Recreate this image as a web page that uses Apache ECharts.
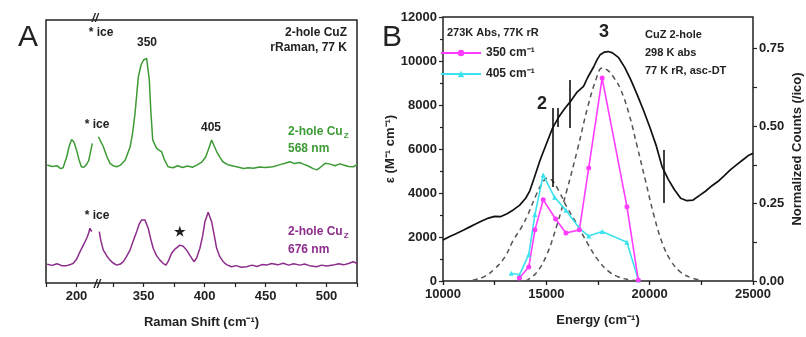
<!DOCTYPE html>
<html>
<head>
<meta charset="UTF-8">
<title>2-hole CuZ rRaman / absorption</title>
<script src="https://cdn.jsdelivr.net/npm/echarts@6/dist/echarts.min.js"></script>
<style>html,body{margin:0;background:#fff}</style>
</head>
<body>
<div id="chart" style="width:806px;height:337px"></div>
<script>
// ---------- panel A: rRaman (broken x axis 215 -> 310) ----------
const BREAK_LO = 215;
const BREAK_SHIFT = 95;
const ramanLabels = [200, 350, 400, 450, 500];
const ramanTicks = [175, 200, 325, 350, 375, 400, 425, 450, 475, 500, 525];

const greenShift = [176,180,184,187,189,192,194,196,198,200,202,204,206,208,210,213,null,
  313,317,320,322.5,325,328,331,335,339,341,343,345.7,348,350,352.5,354.7,356,357.5,360.7,364.8,367,370,374,378,382,386,390,394,398,401,403,405.8,408,410,413,415,419,423.5,428,432,436,440,445,450,456,462,466,470,474,478,481,485,489,492,495,499,503,507,511,514,518,522,525];
const greenCounts = [44.9,44.3,44.6,43.5,43.8,48,52,54.6,53.5,50.6,47,44.2,44.0,44.9,46.5,53.1,null,
  55.6,51.8,48,45.5,44.6,44.2,44.8,46.8,51.8,57,64.5,78.4,83,84.8,85.4,77.2,65,54.4,51.2,49.9,47,44.2,43.8,44.6,43.9,44.5,44,44.9,46.1,48,50.6,54.4,52,49.9,47.5,46.1,45,44.5,44,43.5,43.8,43.6,44.1,43.9,44.2,45,45.5,46.1,45.4,45.8,45.2,44.5,43.5,43,44,45.5,45.2,44.6,45.3,44.9,44.3,44.2,45];

const purpleShift = [176,180,184,188,192,195,197.4,200,202.9,205,208.4,210,211,212.5,null,
  313.7,315,317,320,322.5,325,328,331,333.4,336,338.9,341.5,344.3,346.5,348.4,351.1,353.8,356,357.9,360.5,363.4,366,368.4,370.5,373,376,379.8,382.5,385.3,388,391.3,393.5,396.2,398.5,400.3,403,405.8,408,409.9,412.5,415.3,418,422.2,426,430,434.5,439,443,447,450.9,455,460,464.5,469,473,478.2,482,486,491.9,496,500,505.5,510,514,518,521.9,525];
const purpleCounts = [7.1,6.7,7.3,6.6,6.6,7.0,7.5,9,11.9,13.8,17,19,20.8,19.5,null,
  19.5,16,12.5,10.2,8.7,7.6,6.8,7.2,8.1,10,12.5,16,19.5,22.5,24,24,20.8,16.5,13.2,10.5,8.7,7.5,6.8,8.5,11.3,13,14.4,14,12.5,10.5,8.1,9.5,13.2,18,23.3,26.9,23.3,18,13.2,10,8.1,7,6.2,6.6,6.0,6.2,6.8,6.3,7,6.8,7.4,6.9,7.5,6.8,7.3,6.8,7.2,6.6,6.2,6.8,6.5,6.8,7.3,6.9,7.4,8.1,7.4];

// ---------- panel B: absorption + excitation profiles ----------
const absEnergy = [10000,10300,10600,11000,11300,11600,11900,12200,12500,12800,13100,13400,13700,14000,14200,14400,14700,15000,15300,15600,15900,16200,16500,16800,17000,17150,17300,17450,17600,17800,18000,18200,18500,18800,19100,19400,19700,20000,20300,20600,20900,21200,21500,21800,22100,22400,22700,23000,23300,23600,23900,24200,24500,24800,25000];
const absEps = [1860,2010,2140,2320,2460,2600,2740,2860,2940,2930,3060,3230,3440,3760,4100,4650,5500,6230,6950,7450,7850,8200,8600,8850,9250,9500,9750,10050,10280,10400,10430,10370,10150,9700,9120,8460,7760,7010,6200,5200,4620,4150,3760,3650,3680,3880,4080,4320,4520,4780,5050,5280,5500,5720,5800];

const band2Energy = [11000,11500,12000,12500,13000,13400,13800,14100,14500,14800,15050,15300,15600,16000,16500,17000,17500,18000,18500,19000,19500];
const band2Eps = [0,50,200,550,1100,1850,2450,3000,3900,4450,4680,4550,4100,3350,2550,1700,950,450,180,60,0];
const band3Energy = [14000,14500,15000,15500,16000,16500,17000,17400,17700,18000,18300,18600,19000,19400,19800,20200,20600,21000,21500,22000,22500];
const band3Eps = [0,350,1150,2500,4150,5950,7900,9150,9680,9550,9200,8700,7600,6100,4550,3000,1750,950,400,150,30];

const ep350Energy = [13700,14150,14450,14850,15450,15950,16600,17050,17700,18900,19450];
const ep350Counts = [0.01,0.045,0.165,0.262,0.2,0.155,0.165,0.365,0.655,0.24,0.003];
const ep405Energy = [13300,13700,14150,14450,14850,15400,15950,16600,17050,17700,18900,19450];
const ep405Counts = [0.025,0.02,0.085,0.215,0.342,0.27,0.228,0.17,0.145,0.16,0.125,0.003];

// vertical laser markers on the absorption trace: [energy, low, high]
const laserLines = [[15320,4270,7860],[15530,7000,7860],[16150,6950,9140],[20660,3550,5950]];

const FONT = '"Liberation Sans", Arial, sans-serif';
const GREEN = '#3d9b35';
const PURPLE = '#8c2d8c';
const MAGENTA = '#ff3cff';
const CYAN = '#3ce2ee';
const INK = '#222';

const toAxis = x => (x <= BREAK_LO ? x : x - BREAK_SHIFT);
const fromAxis = u => (u <= BREAK_LO ? u : u + BREAK_SHIFT);
const pairs = (xs, ys, f) => xs.map((x, i) => (x === null ? [BREAK_LO, '-'] : [f ? f(x) : x, ys[i]]));

const labelStyle = { color: INK, fontFamily: FONT, fontWeight: 'bold', fontSize: 13 };
const nameStyle = { color: INK, fontFamily: FONT, fontWeight: 'bold', fontSize: 13 };

function txt(x, y, text, opt) {
  opt = opt || {};
  return {
    type: 'text', x: x, y: y, z: 100,
    style: {
      text: text,
      fill: opt.fill || INK,
      font: (opt.style || '') + ' ' + (opt.weight || 'bold') + ' ' + (opt.size || 12) + 'px ' + FONT,
      textAlign: opt.align || 'left', align: opt.align || 'left',
      textVerticalAlign: 'middle', verticalAlign: 'middle',
      rich: opt.rich
    }
  };
}
const subRich = color => ({
  a: { fill: color, fontSize: 12, fontWeight: 'bold', fontFamily: FONT },
  b: { fill: color, fontSize: 8, fontWeight: 'bold', fontFamily: FONT, padding: [7, 0, 0, 1] }
});

let chart = echarts.init(document.getElementById('chart'));
let option = {
  animation: false,
  grid: [
    { left: 46, top: 20, width: 311, height: 263, show: true, borderColor: INK, borderWidth: 1.5 },
    { left: 443, top: 17, width: 310, height: 264, show: true, borderColor: INK, borderWidth: 1.5 }
  ],
  xAxis: [
    {
      gridIndex: 0, type: 'value', min: 175, max: 430,
      axisLine: { show: false },
      splitLine: { show: false },
      axisTick: { customValues: ramanTicks.map(toAxis), length: 4, lineStyle: { color: INK, width: 1.2 } },
      axisLabel: Object.assign({ customValues: ramanLabels.map(toAxis), margin: 7,
        formatter: u => String(Math.round(fromAxis(u))) }, labelStyle),
      name: 'Raman Shift (cm⁻¹)', nameLocation: 'middle', nameGap: 33, nameTextStyle: nameStyle
    },
    {
      gridIndex: 1, type: 'value', min: 10000, max: 25000, interval: 5000,
      axisLine: { show: false },
      splitLine: { show: false },
      axisTick: { length: 4, lineStyle: { color: INK, width: 1.2 } },
      minorTick: { show: true, splitNumber: 2, length: 3, lineStyle: { color: INK, width: 1.2 } },
      axisLabel: Object.assign({ margin: 7, formatter: v => String(v) }, labelStyle),
      name: 'Energy (cm⁻¹)', nameLocation: 'middle', nameGap: 33, nameTextStyle: nameStyle
    },
    {
      gridIndex: 1, type: 'value', position: 'top', min: 10000, max: 25000, interval: 2500,
      axisLine: { show: false }, splitLine: { show: false }, axisLabel: { show: false },
      axisTick: { inside: true, length: 4, lineStyle: { color: INK, width: 1.2 } }
    }
  ],
  yAxis: [
    {
      gridIndex: 0, type: 'value', min: 0, max: 100,
      axisLine: { show: false }, axisTick: { show: false }, axisLabel: { show: false }, splitLine: { show: false }
    },
    {
      gridIndex: 1, type: 'value', min: 0, max: 12000, interval: 2000,
      axisLine: { show: false }, splitLine: { show: false },
      axisTick: { length: 4, lineStyle: { color: INK, width: 1.2 } },
      minorTick: { show: true, splitNumber: 2, length: 3, lineStyle: { color: INK, width: 1.2 } },
      axisLabel: Object.assign({ margin: 6, formatter: v => String(v) }, labelStyle),
      name: 'ε (M⁻¹ cm⁻¹)', nameLocation: 'middle', nameGap: 46, nameTextStyle: nameStyle
    },
    {
      gridIndex: 1, type: 'value', position: 'right', min: 0, max: 0.852,
      axisLine: { show: false }, splitLine: { show: false },
      axisTick: { customValues: [0, 0.125, 0.25, 0.375, 0.5, 0.625, 0.75], length: 4, lineStyle: { color: INK, width: 1.2 } },
      axisLabel: Object.assign({ customValues: [0, 0.25, 0.5, 0.75], margin: 6, formatter: v => v.toFixed(2) }, labelStyle),
      name: 'Normalized Counts (/ico)', nameLocation: 'middle', nameGap: 38, nameTextStyle: nameStyle
    }
  ],
  legend: {
    left: 440, top: 47, orient: 'vertical', padding: 0,
    itemWidth: 40, itemHeight: 8, itemGap: 9,
    data: ['350 cm⁻¹', '405 cm⁻¹'],
    textStyle: { color: INK, fontFamily: FONT, fontWeight: 'bold', fontSize: 12 }
  },
  series: [
    {
      type: 'line', xAxisIndex: 0, yAxisIndex: 0, showSymbol: false, connectNulls: false,
      lineStyle: { color: GREEN, width: 1.5 }, itemStyle: { color: GREEN },
      data: pairs(greenShift, greenCounts, toAxis)
    },
    {
      type: 'line', xAxisIndex: 0, yAxisIndex: 0, showSymbol: false, connectNulls: false,
      lineStyle: { color: PURPLE, width: 1.5 }, itemStyle: { color: PURPLE },
      data: pairs(purpleShift, purpleCounts, toAxis)
    },
    {
      type: 'line', xAxisIndex: 1, yAxisIndex: 1, showSymbol: false,
      lineStyle: { color: '#555', width: 1.5, type: [5, 4] },
      smooth: 0.4, data: pairs(band2Energy, band2Eps)
    },
    {
      type: 'line', xAxisIndex: 1, yAxisIndex: 1, showSymbol: false,
      lineStyle: { color: '#555', width: 1.5, type: [5, 4] },
      smooth: 0.4, data: pairs(band3Energy, band3Eps)
    },
    {
      type: 'line', xAxisIndex: 1, yAxisIndex: 1, showSymbol: false,
      lineStyle: { color: '#111', width: 1.7 },
      data: pairs(absEnergy, absEps),
      markLine: {
        silent: true, symbol: ['none', 'none'], label: { show: false },
        lineStyle: { color: '#111', width: 1.6, type: 'solid' },
        data: laserLines.map(l => [{ coord: [l[0], l[1]] }, { coord: [l[0], l[2]] }])
      }
    },
    {
      name: '405 cm⁻¹', type: 'line', xAxisIndex: 1, yAxisIndex: 2,
      symbol: 'triangle', symbolSize: 5,
      lineStyle: { color: CYAN, width: 1.6 }, itemStyle: { color: CYAN },
      data: pairs(ep405Energy, ep405Counts)
    },
    {
      name: '350 cm⁻¹', type: 'line', xAxisIndex: 1, yAxisIndex: 2,
      symbol: 'circle', symbolSize: 5,
      lineStyle: { color: MAGENTA, width: 1.6 }, itemStyle: { color: MAGENTA },
      data: pairs(ep350Energy, ep350Counts)
    }
  ],
  graphic: [
    txt(28, 38, 'A', { size: 30, weight: 'normal', align: 'center' }),
    txt(392, 38, 'B', { size: 30, weight: 'normal', align: 'center' }),
    // axis break marks
    txt(95, 19, '//', { size: 12, style: 'italic', align: 'center' }),
    txt(97, 285, '//', { size: 12, style: 'italic', align: 'center' }),
    // panel A notes
    txt(101, 33, '* ice', { align: 'center' }),
    txt(147, 43, '350', { align: 'center' }),
    txt(347, 33, '2-hole CuZ', { align: 'right' }),
    txt(347, 48, 'rRaman, 77 K', { align: 'right' }),
    txt(97, 125, '* ice', { align: 'center' }),
    txt(211, 128, '405', { align: 'center' }),
    txt(288, 132, '{a|2-hole Cu}{b|Z}', { rich: subRich(GREEN) }),
    txt(288, 149, '568 nm', { fill: GREEN }),
    txt(97, 216, '* ice', { align: 'center' }),
    txt(180, 232, '★', { align: 'center', size: 13 }),
    txt(288, 232, '{a|2-hole Cu}{b|Z}', { rich: subRich(PURPLE) }),
    txt(288, 250, '676 nm', { fill: PURPLE }),
    // panel B notes
    txt(447, 33, '273K Abs, 77K rR', { size: 11 }),
    txt(542, 104, '2', { size: 18, align: 'center' }),
    txt(604, 32, '3', { size: 18, align: 'center' }),
    txt(645, 35, 'CuZ 2-hole', { size: 11 }),
    txt(645, 53, '298 K abs', { size: 11 }),
    txt(645, 71, '77 K rR, asc-DT', { size: 11 })
  ]
};
chart.setOption(option);
</script>
</body>
</html>
